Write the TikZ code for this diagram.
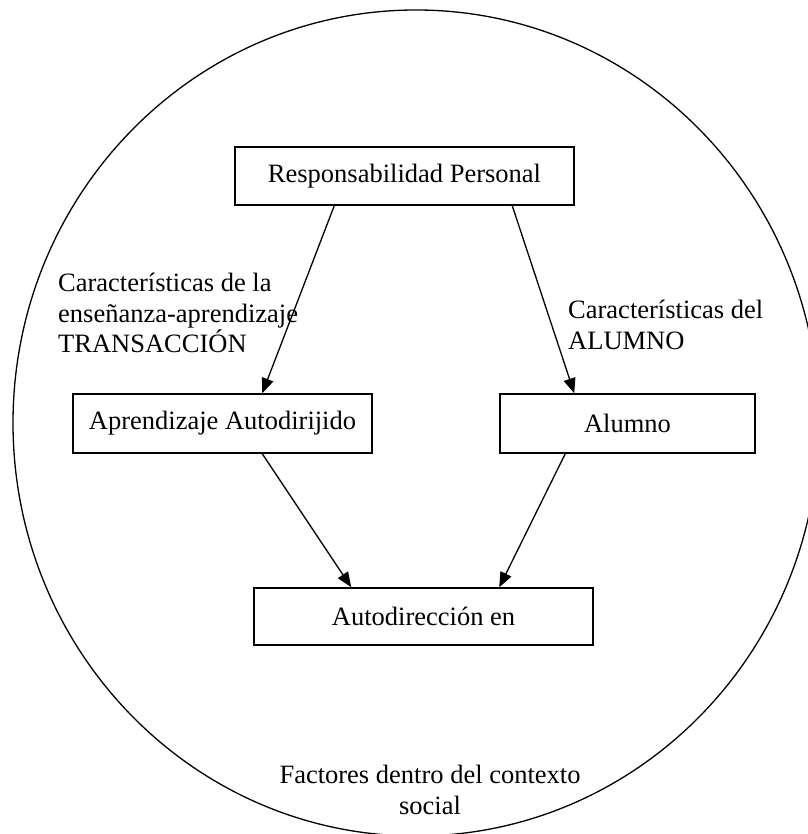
\documentclass[tikz,border=0pt]{standalone}
\usepackage{fontspec}
\setmainfont{Liberation Serif}
\usetikzlibrary{arrows.meta}
\begin{document}
\begin{tikzpicture}[x=1pt,y=-1pt,
  every node/.style={font=\fontsize{26.5}{30.5}\selectfont},
  boxnode/.style={draw,line width=1.5pt,inner sep=0pt,minimum width=#1},
  lbl/.style={inner sep=0pt,align=left},
  arr/.style={line width=1.3pt,-{Triangle[length=15pt,width=12pt]}}]
\useasboundingbox (0,0) rectangle (807,834);
\draw[line width=1.3pt] (416,423) ellipse [x radius=403, y radius=413];
\node[boxnode=339pt,minimum height=58pt] (resp) at (404.5,176) {Responsabilidad Personal};
\node[boxnode=299pt,minimum height=59pt] (aprend) at (222.5,423.5) {Aprendizaje Autodirijido};
\node[boxnode=255pt,minimum height=59pt] (alumno) at (627.5,423.5) {Alumno};
\node[boxnode=339pt,minimum height=57pt] (auto) at (423.5,616.5) {Autodirección en};
\node[lbl,anchor=north west] (l1) at (58,273) {Características de la\\enseñanza-aprendizaje\\TRANSACCIÓN};
\node[lbl,anchor=north west] (l2) at (568,300) {Características del\\ALUMNO};
\node[inner sep=0pt,align=center,anchor=north] (fac) at (430,765) {Factores dentro del contexto\\social};
\draw[arr] ([xshift=100pt]resp.south west) -- ([xshift=190pt]aprend.north west);
\draw[arr] ([xshift=278pt]resp.south west) -- ([xshift=75pt]alumno.north west);
\draw[arr] ([xshift=190pt]aprend.south west) -- ([xshift=98pt]auto.north west);
\draw[arr] ([xshift=66pt]alumno.south west) -- ([xshift=246pt]auto.north west);
\end{tikzpicture}
\end{document}
